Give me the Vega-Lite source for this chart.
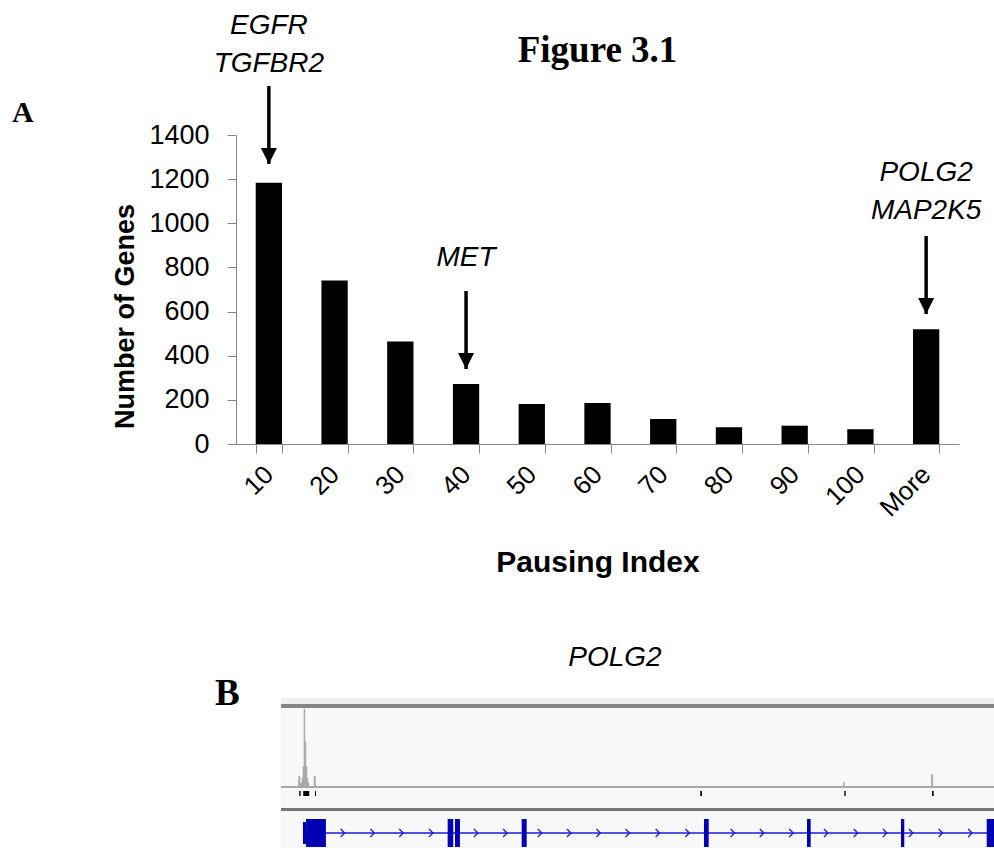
{
  "$schema": "https://vega.github.io/schema/vega-lite/v6.json",
  "background": "white",
  "padding": {"left": 12, "top": 11, "right": 0, "bottom": 0},
  "title": {"text": "A", "anchor": "start", "frame": "group", "font": "Liberation Serif", "fontSize": 30, "fontWeight": "bold", "color": "black", "baseline": "alphabetic", "offset": 0, "dx": -224, "dy": 140},
  "config": {"view": {"stroke": null}, "font": "Liberation Sans"},
  "bounds": "flush",
  "spacing": 254,
  "datasets": {
    "counts": [
      {"bin": "10", "genes": 1184},
      {"bin": "20", "genes": 741},
      {"bin": "30", "genes": 464},
      {"bin": "40", "genes": 272},
      {"bin": "50", "genes": 181},
      {"bin": "60", "genes": 186},
      {"bin": "70", "genes": 113},
      {"bin": "80", "genes": 76},
      {"bin": "90", "genes": 83},
      {"bin": "100", "genes": 67},
      {"bin": "More", "genes": 520}
    ],
    "arrows": [
      {"bin": "10", "top": 1622, "tip": 1269},
      {"bin": "40", "top": 693, "tip": 340},
      {"bin": "More", "top": 942, "tip": 589}
    ],
    "callouts": [
      {"bin": "10", "gene": "EGFR", "y": 1858},
      {"bin": "10", "gene": "TGFBR2", "y": 1686},
      {"bin": "40", "gene": "MET", "y": 807},
      {"bin": "More", "gene": "POLG2", "y": 1192},
      {"bin": "More", "gene": "MAP2K5", "y": 1019}
    ],
    "window": [{"start": 0, "end": 23}],
    "coverage": [
      {"start": 0.565, "end": 0.613, "reads": 10},
      {"start": 0.613, "end": 0.677, "reads": 3},
      {"start": 0.677, "end": 0.710, "reads": 8},
      {"start": 0.710, "end": 0.742, "reads": 20},
      {"start": 0.742, "end": 0.774, "reads": 79},
      {"start": 0.774, "end": 0.806, "reads": 45},
      {"start": 0.806, "end": 0.839, "reads": 20},
      {"start": 0.839, "end": 0.871, "reads": 8},
      {"start": 0.871, "end": 0.903, "reads": 3},
      {"start": 1.065, "end": 1.113, "reads": 10},
      {"start": 18.145, "end": 18.177, "reads": 4},
      {"start": 20.977, "end": 21.026, "reads": 12}
    ],
    "features": [
      {"start": 0.590, "end": 0.635},
      {"start": 0.719, "end": 0.913},
      {"start": 1.097, "end": 1.129},
      {"start": 13.526, "end": 13.581},
      {"start": 18.171, "end": 18.216},
      {"start": 21.0, "end": 21.055}
    ],
    "exons": [
      {"start": 0.71, "end": 0.81, "part": "UTR"},
      {"start": 0.81, "end": 1.45, "part": "CDS"},
      {"start": 5.377, "end": 5.558, "part": "CDS"},
      {"start": 5.613, "end": 5.774, "part": "CDS"},
      {"start": 7.765, "end": 7.926, "part": "CDS"},
      {"start": 13.645, "end": 13.797, "part": "CDS"},
      {"start": 16.968, "end": 17.087, "part": "CDS"},
      {"start": 20.0, "end": 20.106, "part": "CDS"},
      {"start": 22.765, "end": 23.0, "part": "CDS"}
    ],
    "transcript": [{"start": 0.71, "end": 23}],
    "strand": [
      {"pos": 1.99}, {"pos": 2.95}, {"pos": 3.88}, {"pos": 4.84}, {"pos": 6.29}, {"pos": 7.23},
      {"pos": 8.35}, {"pos": 9.29}, {"pos": 10.24}, {"pos": 11.18}, {"pos": 12.15}, {"pos": 13.11},
      {"pos": 14.57}, {"pos": 15.51}, {"pos": 16.46}, {"pos": 17.58}, {"pos": 18.54}, {"pos": 19.48},
      {"pos": 20.32}, {"pos": 21.28}, {"pos": 22.23}
    ]
  },
  "vconcat": [
    {
      "width": 723,
      "height": 309,
      "title": {"text": "Figure 3.1", "font": "Liberation Serif", "fontSize": 37, "fontWeight": "bold", "color": "black", "anchor": "middle", "frame": "group", "baseline": "alphabetic", "offset": 0, "dy": 87},
      "layer": [
        {
          "data": {"name": "counts"},
          "mark": {"type": "bar", "color": "black"},
          "encoding": {
            "x": {
              "field": "bin", "type": "nominal", "title": "Pausing Index",
              "scale": {"domain": ["10", "20", "30", "40", "50", "60", "70", "80", "90", "100", "More"], "paddingInner": 0.6, "paddingOuter": 0.3},
              "axis": {
                "titleFont": "Liberation Sans", "titleFontSize": 30, "titleFontWeight": "bold", "titleColor": "black",
                "titleBaseline": "alphabetic", "titleY": 127,
                "labelAngle": -45, "labelAlign": "right", "labelBaseline": "middle", "labelFont": "Liberation Sans", "labelFontSize": 26,
                "labelColor": "black", "labelPadding": 17, "labelOverlap": false,
                "tickBand": "extent", "tickSize": 9, "tickColor": "#868686", "domainColor": "#868686", "grid": false
              }
            },
            "y": {
              "field": "genes", "type": "quantitative", "title": "Number of Genes",
              "scale": {"domain": [0, 1400], "nice": false},
              "axis": {
                "titleFont": "Liberation Sans", "titleFontSize": 27, "titleFontWeight": "bold", "titleColor": "black",
                "titleBaseline": "alphabetic", "titleX": -103, "titleY": 181, "titleAlign": "center",
                "values": [0, 200, 400, 600, 800, 1000, 1200, 1400], "format": "d",
                "labelFont": "Liberation Sans", "labelFontSize": 27, "labelColor": "black", "labelPadding": 18, "labelFlush": false, "labelOverlap": false,
                "tickSize": 9, "tickColor": "#868686", "domainColor": "#868686", "grid": false
              }
            }
          }
        },
        {
          "data": {"name": "arrows"},
          "mark": {"type": "rule", "color": "black", "strokeWidth": 3.5},
          "encoding": {
            "x": {"field": "bin", "type": "nominal", "title": "Pausing Index"},
            "y": {"field": "top", "type": "quantitative", "title": "Number of Genes"},
            "y2": {"field": "tip"}
          }
        },
        {
          "data": {"name": "arrows"},
          "mark": {"type": "point", "shape": "M-1,-2L1,-2L0,0Z", "filled": true, "size": 256, "color": "black", "opacity": 1},
          "encoding": {
            "x": {"field": "bin", "type": "nominal", "title": "Pausing Index"},
            "y": {"field": "tip", "type": "quantitative", "title": "Number of Genes"}
          }
        },
        {
          "data": {"name": "callouts"},
          "mark": {"type": "text", "font": "Liberation Sans", "fontSize": 28, "fontStyle": "italic", "align": "center", "baseline": "alphabetic", "color": "black"},
          "encoding": {
            "x": {"field": "bin", "type": "nominal", "title": "Pausing Index"},
            "y": {"field": "y", "type": "quantitative", "title": "Number of Genes"},
            "text": {"field": "gene"}
          }
        }
      ]
    },
    {
      "bounds": "flush",
      "spacing": 0,
      "vconcat": [
        {
          "width": 758, "height": 6,
          "title": {"text": "POLG2", "font": "Liberation Sans", "fontSize": 28, "fontStyle": "italic", "fontWeight": "normal", "color": "black", "anchor": "middle", "frame": "group", "baseline": "alphabetic", "offset": 4},
          "data": {"name": "window"},
          "mark": {"type": "rect", "color": "#efefef"},
          "encoding": {
            "x": {"field": "start", "type": "quantitative", "scale": {"domain": [-1.45, 23], "nice": false, "zero": false}, "axis": null},
            "x2": {"field": "end"}
          }
        },
        {
          "width": 758, "height": 4,
          "title": {"text": "B", "font": "Liberation Serif", "fontSize": 37, "fontWeight": "bold", "color": "black", "anchor": "start", "frame": "group", "baseline": "alphabetic", "offset": -38, "dx": -21},
          "data": {"name": "window"},
          "mark": {"type": "rect", "color": "#858585"},
          "encoding": {
            "x": {"field": "start", "type": "quantitative", "scale": {"domain": [-1.45, 23], "nice": false, "zero": false}, "axis": null},
            "x2": {"field": "end"}
          }
        },
        {
          "width": 758, "height": 78,
          "layer": [
            {
              "data": {"name": "window"},
              "mark": {"type": "rect", "color": "#f8f8f8"},
              "encoding": {
                "x": {"field": "start", "type": "quantitative", "scale": {"domain": [-1.45, 23], "nice": false, "zero": false}, "axis": null},
                "x2": {"field": "end"}
              }
            },
            {
              "data": {"name": "coverage"},
              "mark": {"type": "rect", "color": "#a9a9a9", "stroke": "#a9a9a9", "strokeWidth": 0.5},
              "encoding": {
                "x": {"field": "start", "type": "quantitative", "axis": null},
                "x2": {"field": "end"},
                "y": {"field": "reads", "type": "quantitative", "scale": {"domain": [0, 80], "nice": false}, "axis": null},
                "y2": {"datum": 0}
              }
            }
          ]
        },
        {
          "width": 758, "height": 2,
          "data": {"name": "window"},
          "mark": {"type": "rect", "color": "#a8a8a8"},
          "encoding": {
            "x": {"field": "start", "type": "quantitative", "scale": {"domain": [-1.45, 23], "nice": false, "zero": false}, "axis": null},
            "x2": {"field": "end"}
          }
        },
        {
          "width": 758, "height": 3,
          "data": {"name": "window"},
          "mark": {"type": "rect", "color": "#f8f8f8"},
          "encoding": {
            "x": {"field": "start", "type": "quantitative", "scale": {"domain": [-1.45, 23], "nice": false, "zero": false}, "axis": null},
            "x2": {"field": "end"}
          }
        },
        {
          "width": 758, "height": 5,
          "layer": [
            {
              "data": {"name": "window"},
              "mark": {"type": "rect", "color": "#f8f8f8"},
              "encoding": {
                "x": {"field": "start", "type": "quantitative", "scale": {"domain": [-1.45, 23], "nice": false, "zero": false}, "axis": null},
                "x2": {"field": "end"}
              }
            },
            {
              "data": {"name": "features"},
              "mark": {"type": "rect", "color": "black"},
              "encoding": {
                "x": {"field": "start", "type": "quantitative", "axis": null},
                "x2": {"field": "end"}
              }
            }
          ]
        },
        {
          "width": 758, "height": 12,
          "data": {"name": "window"},
          "mark": {"type": "rect", "color": "#f8f8f8"},
          "encoding": {
            "x": {"field": "start", "type": "quantitative", "scale": {"domain": [-1.45, 23], "nice": false, "zero": false}, "axis": null},
            "x2": {"field": "end"}
          }
        },
        {
          "width": 758, "height": 3,
          "data": {"name": "window"},
          "mark": {"type": "rect", "color": "#767676"},
          "encoding": {
            "x": {"field": "start", "type": "quantitative", "scale": {"domain": [-1.45, 23], "nice": false, "zero": false}, "axis": null},
            "x2": {"field": "end"}
          }
        },
        {
          "width": 758, "height": 8,
          "data": {"name": "window"},
          "mark": {"type": "rect", "color": "#f8f8f8"},
          "encoding": {
            "x": {"field": "start", "type": "quantitative", "scale": {"domain": [-1.45, 23], "nice": false, "zero": false}, "axis": null},
            "x2": {"field": "end"}
          }
        },
        {
          "width": 758, "height": 28,
          "layer": [
            {
              "data": {"name": "window"},
              "mark": {"type": "rect", "color": "#f8f8f8"},
              "encoding": {
                "x": {"field": "start", "type": "quantitative", "scale": {"domain": [-1.45, 23], "nice": false, "zero": false}, "axis": null},
                "x2": {"field": "end"}
              }
            },
            {
              "data": {"name": "transcript"},
              "mark": {"type": "rule", "color": "#1c1cd4", "strokeWidth": 1.6},
              "encoding": {
                "x": {"field": "start", "type": "quantitative", "axis": null},
                "x2": {"field": "end"}
              }
            },
            {
              "data": {"name": "strand"},
              "mark": {"type": "point", "shape": "M-0.5,-1L0.5,0L-0.5,1", "filled": false, "size": 64, "color": "#1c1cd4", "strokeWidth": 1.3, "opacity": 1},
              "encoding": {
                "x": {"field": "pos", "type": "quantitative", "axis": null}
              }
            },
            {
              "data": {"name": "exons"},
              "transform": [{"filter": "datum.part === 'CDS'"}],
              "mark": {"type": "rect", "color": "#0000b2", "clip": true},
              "encoding": {
                "x": {"field": "start", "type": "quantitative", "axis": null},
                "x2": {"field": "end"}
              }
            },
            {
              "data": {"name": "exons"},
              "transform": [{"filter": "datum.part === 'UTR'"}],
              "mark": {"type": "rule", "color": "#0000b2", "strokeWidth": 22},
              "encoding": {
                "x": {"field": "start", "type": "quantitative", "axis": null},
                "x2": {"field": "end"}
              }
            }
          ]
        },
        {
          "width": 758, "height": 4,
          "data": {"name": "window"},
          "mark": {"type": "rect", "color": "#f8f8f8"},
          "encoding": {
            "x": {"field": "start", "type": "quantitative", "scale": {"domain": [-1.45, 23], "nice": false, "zero": false}, "axis": null},
            "x2": {"field": "end"}
          }
        }
      ]
    }
  ]
}
